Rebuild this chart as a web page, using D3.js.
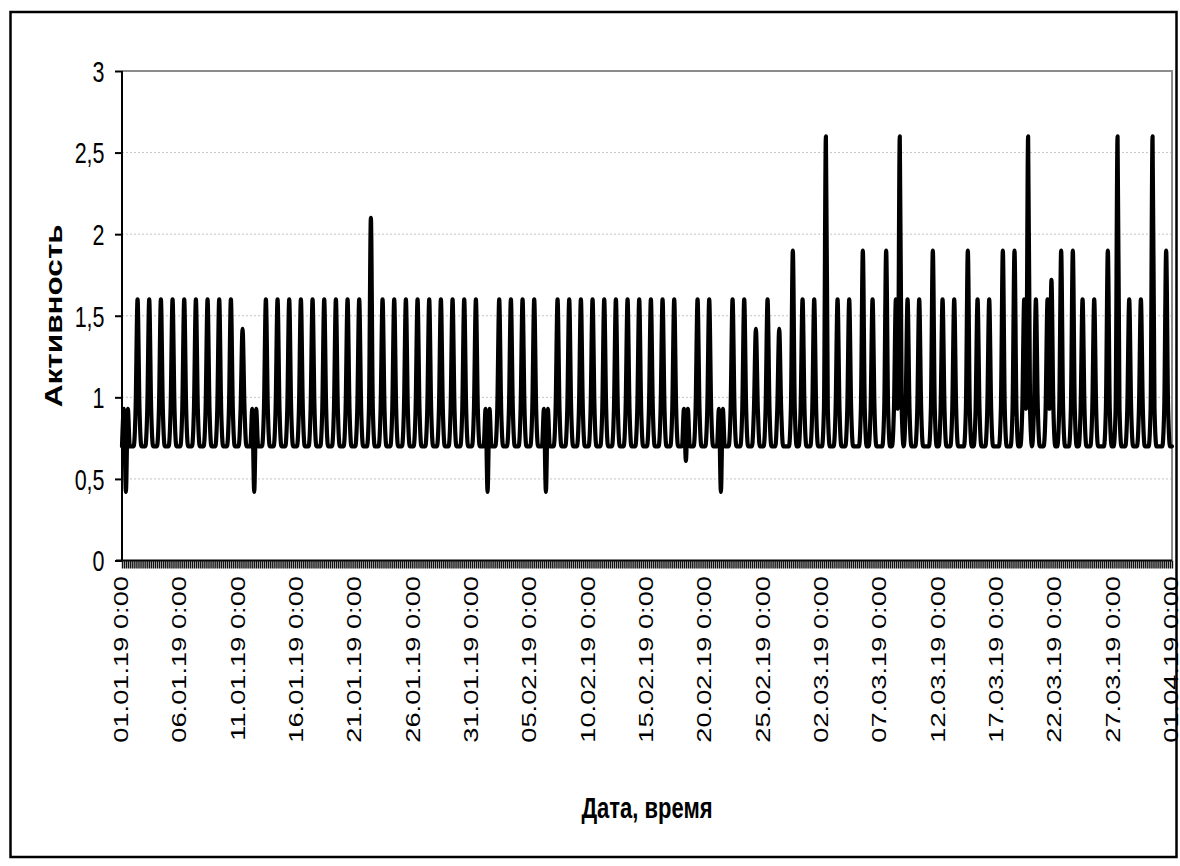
<!DOCTYPE html>
<html><head><meta charset="utf-8">
<script src="https://cdn.jsdelivr.net/npm/d3@7"></script>
<style>html,body{margin:0;padding:0;background:#fff;} svg{display:block;}</style>
</head><body><svg id="chart" width="1180" height="866"></svg>
<script>
// ---------- data ----------
const dayCount = 90;            // 01.01.19 .. 31.03.19, plus closing point 01.04.19 0:00
const stepHours = 4;            // readings every 4 hours
const baselineValue = 0.7;
const shoulderValue = 0.93;     // reading 4 h before / after a daily peak
// main daily reading (08:00, or 12:00 for days listed in noonPeakDays)
const peakValue = [
  0.42, 1.6, 1.6, 1.6, 1.6, 1.6, 1.6, 1.6, 1.6, 1.6,
  1.42, 0.42, 1.6, 1.6, 1.6, 1.6, 1.6, 1.6, 1.6, 1.6,
  1.6, 2.1, 1.6, 1.6, 1.6, 1.6, 1.6, 1.6, 1.6, 1.6,
  1.6, 0.42, 1.6, 1.6, 1.6, 1.6, 0.42, 1.6, 1.6, 1.6,
  1.6, 1.6, 1.6, 1.6, 1.6, 1.6, 1.6, 1.6, 0.61, 1.6,
  1.6, 0.42, 1.6, 1.6, 1.42, 1.6, 1.42, 1.9, 1.6, 1.6,
  2.6, 1.6, 1.6, 1.9, 1.6, 1.9, 1.6, 1.6, 1.6, 1.9,
  1.6, 1.6, 1.9, 1.6, 1.6, 1.9, 1.9, 1.6, 1.6, 1.6,
  1.9, 1.9, 1.6, 1.6, 1.9, 2.6, 1.6, 1.6, 2.6, 1.9
];
const noonPeakDays = [57, 63, 65, 69, 72, 75, 76, 80, 81, 84, 89];
// second peak of the day: [day, hour, value]
const extraPeaks = [[66, 16, 2.6], [77, 16, 2.6], [79, 16, 1.72]];

const yTicks = [0, 0.5, 1, 1.5, 2, 2.5, 3];
const yTickLabels = ["0", "0,5", "1", "1,5", "2", "2,5", "3"];
const xTickLabels = [
  "01.01.19 0:00", "06.01.19 0:00", "11.01.19 0:00", "16.01.19 0:00", "21.01.19 0:00",
  "26.01.19 0:00", "31.01.19 0:00", "05.02.19 0:00", "10.02.19 0:00", "15.02.19 0:00",
  "20.02.19 0:00", "25.02.19 0:00", "02.03.19 0:00", "07.03.19 0:00", "12.03.19 0:00",
  "17.03.19 0:00", "22.03.19 0:00", "27.03.19 0:00", "01.04.19 0:00"
];
const xTickEveryDays = 5;
const yTitle = "Активность";
const xTitle = "Дата, время";

// ---------- series assembly ----------
const perDay = 24 / stepHours;
const nPoints = dayCount * perDay + 1;
const series = new Array(nPoints).fill(baselineValue);
function putPeak(day, hour, value) {
  const i = day * perDay + hour / stepHours;
  if (series[i - 1] === baselineValue) series[i - 1] = shoulderValue;
  if (series[i + 1] === baselineValue) series[i + 1] = shoulderValue;
  series[i] = value;
}
peakValue.forEach((v, d) => putPeak(d, noonPeakDays.includes(d) ? 12 : 8, v));
extraPeaks.forEach(([d, h, v]) => putPeak(d, h, v));

// ---------- drawing ----------
const svg = d3.select("#chart");
const FONT = "'Liberation Sans', Arial, sans-serif";
const L = 122, R = 1172, T = 71, B = 560.5;

svg.append("rect").attr("x", 10.5).attr("y", 12).attr("width", 1166).attr("height", 845)
  .attr("fill", "#fff").attr("stroke", "#000").attr("stroke-width", 2.5);

const x = d3.scaleLinear().domain([0, nPoints - 1]).range([L, R]);
const y = d3.scaleLinear().domain([0, 3]).range([B, T]);

// gridlines
svg.append("g").selectAll("line").data(yTicks.filter(v => v > 0 && v < 3)).join("line")
  .attr("x1", L).attr("x2", R).attr("y1", d => y(d)).attr("y2", d => y(d))
  .attr("stroke", "#c4c4c4").attr("stroke-width", 1).attr("stroke-dasharray", "2,2");

// plot area border (top / right)
svg.append("path").attr("d", `M${L},${y(3)}H${R}V${B}`)
  .attr("fill", "none").attr("stroke", "#8c8c8c").attr("stroke-width", 2);

// series line
const line = d3.line().x((d, i) => x(i)).y(d => y(d)).curve(d3.curveMonotoneX);
svg.append("path").datum(series).attr("d", line)
  .attr("fill", "none").attr("stroke", "#000").attr("stroke-width", 4.2)
  .attr("stroke-linejoin", "round").attr("stroke-linecap", "round");

// x axis with a tick for every reading
const xAxis = d3.axisBottom(x).tickValues(d3.range(nPoints)).tickSize(8).tickFormat("");
const gx = svg.append("g").attr("transform", `translate(0,${B})`).call(xAxis);
gx.select(".domain").attr("stroke", "#000").attr("stroke-width", 2).attr("d", `M${L - 6},0H${R}`);
gx.selectAll(".tick line").attr("stroke", "#111").attr("stroke-width", 1.4);

// y axis
const yAxis = d3.axisLeft(y).tickValues(yTicks).tickSize(7).tickFormat("");
const gy = svg.append("g").attr("transform", `translate(${L},0)`).call(yAxis);
gy.select(".domain").attr("stroke", "#000").attr("stroke-width", 2).attr("d", `M0,${y(3)}V${B}`);
gy.selectAll(".tick line").attr("stroke", "#000").attr("stroke-width", 2);

// y tick labels
svg.append("g").selectAll("text").data(yTicks).join("text")
  .attr("transform", d => `translate(104.5,${y(d)}) scale(1,1.4)`)
  .attr("text-anchor", "end").attr("dy", "0.36em")
  .attr("font-family", FONT).attr("font-size", 21.5).attr("fill", "#000")
  .text((d, i) => yTickLabels[i]);

// x tick labels
svg.append("g").selectAll("text").data(xTickLabels).join("text")
  .attr("transform", (d, i) => `translate(${x(i * xTickEveryDays * perDay) - 1.5},576) rotate(-90) scale(1.33,1)`)
  .attr("text-anchor", "end").attr("dy", "0.36em")
  .attr("font-family", FONT).attr("font-size", 20.5).attr("fill", "#000")
  .text(d => d);

// axis titles
svg.append("text").attr("transform", `translate(62,${(T + B) / 2}) rotate(-90) scale(1.37,1)`)
  .attr("text-anchor", "middle").attr("font-family", FONT).attr("font-weight", "bold")
  .attr("font-size", 23).attr("fill", "#000").text(yTitle);
svg.append("text").attr("transform", `translate(${(L + R) / 2},818) scale(1,1.37)`)
  .attr("text-anchor", "middle").attr("font-family", FONT).attr("font-weight", "bold")
  .attr("font-size", 22).attr("fill", "#000").text(xTitle);
</script>
</body></html>
